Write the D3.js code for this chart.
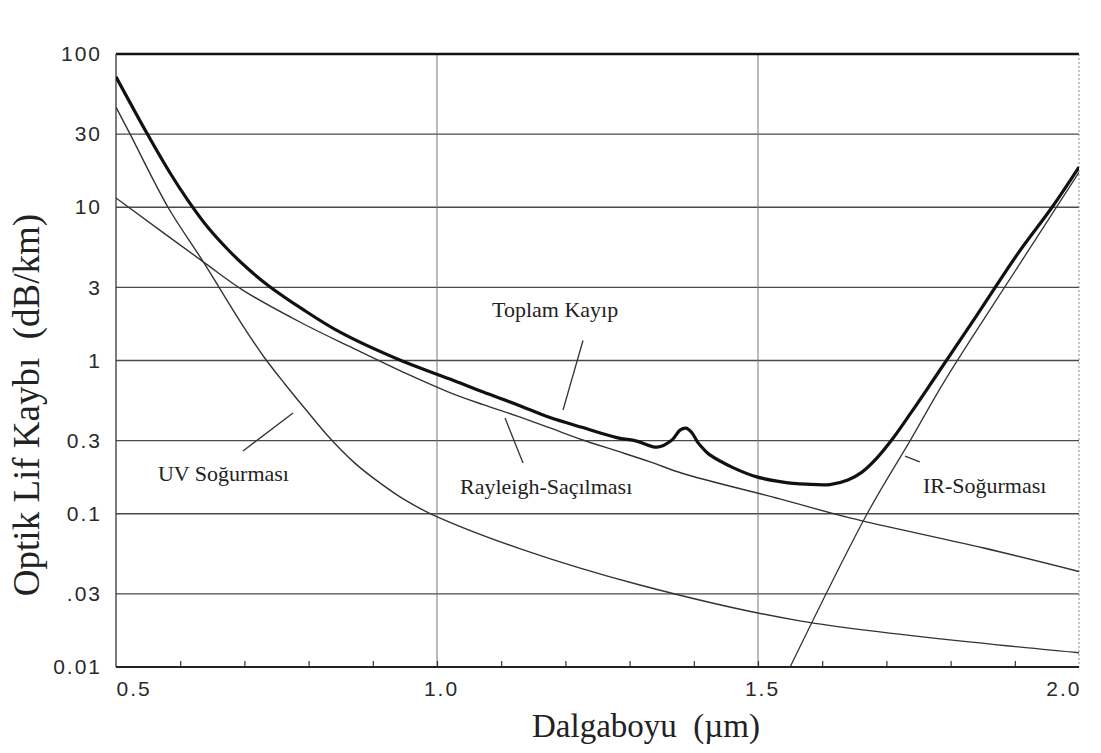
<!DOCTYPE html>
<html><head><meta charset="utf-8">
<script src="https://cdn.jsdelivr.net/npm/d3@7"></script>
<style>
body{margin:0;background:#fff}
svg{display:block}
.t{white-space:pre}
</style>
</head><body>
<svg id="c" width="1101" height="753"></svg>
<script>
// ---- data ----
const yTickValues = [0.01, 0.03, 0.1, 0.3, 1, 3, 10, 30, 100];
const yTickLabels = ["0.01", ".03", "0.1", "0.3", "1", "3", "10", "30", "100"];
const xTickValues = [0.5, 1.0, 1.5, 2.0];
const xTickLabels = ["0.5", "1.0", "1.5", "2.0"];
const xMinorTicks = [0.6, 0.7, 0.8, 0.9, 1.0, 1.1, 1.2, 1.3, 1.4, 1.5, 1.6, 1.7, 1.8, 1.9];
const xGrid = [1.0, 1.5];

const totalLambda = [0.5, 0.548, 0.584, 0.612, 0.643, 0.675, 0.706, 0.737, 0.79, 0.849, 0.942, 1.02, 1.072, 1.125, 1.176, 1.227, 1.28, 1.311, 1.343, 1.366, 1.3785, 1.388, 1.397, 1.4065, 1.4175, 1.425, 1.461, 1.498, 1.539, 1.575, 1.612, 1.640, 1.662, 1.684, 1.707, 1.737, 1.773, 1.84, 1.905, 1.958, 2.0];
const totalLoss   = [71, 30.5, 16.8, 11.1, 7.4, 5.26, 3.95, 3.09, 2.17, 1.53, 1.007, 0.757, 0.622, 0.515, 0.424, 0.365, 0.314, 0.298, 0.272, 0.303, 0.351, 0.362, 0.338, 0.291, 0.258, 0.242, 0.2, 0.174, 0.161, 0.156, 0.155, 0.166, 0.187, 0.228, 0.298, 0.448, 0.746, 1.95, 5.0, 10, 18.3];

const rayleighLambda = [0.5, 0.636, 0.698, 0.79, 0.87, 0.95, 1.02, 1.072, 1.125, 1.176, 1.227, 1.28, 1.332, 1.383, 1.534, 1.643, 1.85, 2.0];
const rayleighLoss   = [11.5, 4.4, 2.87, 1.75, 1.2, 0.83, 0.618, 0.515, 0.434, 0.363, 0.303, 0.257, 0.218, 0.183, 0.125, 0.094, 0.06, 0.042];

const uvLambda = [0.5, 0.522, 0.581, 0.636, 0.696, 0.7305, 0.763, 0.7975, 0.833, 0.872, 0.911, 0.950, 0.991, 1.13, 1.316, 1.565, 2.0];
const uvLoss   = [45, 30, 10, 4.4, 1.73, 1.054, 0.703, 0.468, 0.312, 0.214, 0.159, 0.123, 0.0996, 0.059, 0.0343, 0.02, 0.0124];

const irLambda = [1.55, 1.67, 1.737, 1.791, 1.905, 2.0];
const irLoss   = [0.01, 0.1, 0.3, 0.74, 4.1, 16.9];

// annotations (data coordinates)
const labelTexts  = ["Toplam Kayıp", "Rayleigh-Saçılması", "UV Soğurması", "IR-Soğurması"];
const labelLambda = [1.0857, 1.0358, 0.5654, 1.757];
const labelLoss   = [1.91, 0.135, 0.164, 0.137];
const leaderFrom  = [[1.2274, 1.35], [1.106, 0.421], [0.6978, 0.257], [1.729, 0.238]];
const leaderTo    = [[1.1963, 0.475], [1.134, 0.214], [0.7757, 0.454], [1.752, 0.218]];

// ---- chart ----
const svg = d3.select("#c");
const L = 116, R = 1079, T = 54, B = 667;
const x = d3.scaleLinear().domain([0.5, 2.0]).range([L, R]);
const y = d3.scaleLog().domain([0.01, 100]).range([B, T]);

// horizontal grid
svg.append("g").selectAll("line").data(yTickValues.filter(v => v > 0.01 && v < 100)).join("line")
  .attr("x1", L).attr("x2", R).attr("y1", d => y(d)).attr("y2", d => y(d))
  .attr("stroke", "#4a4a4a").attr("stroke-width", 1.4);
// vertical grid
svg.append("g").selectAll("line").data(xGrid).join("line")
  .attr("x1", d => x(d)).attr("x2", d => x(d)).attr("y1", T).attr("y2", B)
  .attr("stroke", "#777").attr("stroke-width", 1);

// borders
svg.append("line").attr("x1", L).attr("x2", R).attr("y1", y(100)).attr("y2", y(100))
  .attr("stroke", "#111").attr("stroke-width", 2.6);
svg.append("line").attr("x1", L).attr("x2", L).attr("y1", T).attr("y2", B)
  .attr("stroke", "#444").attr("stroke-width", 1.4);
svg.append("line").attr("x1", R).attr("x2", R).attr("y1", T).attr("y2", B)
  .attr("stroke", "#888").attr("stroke-width", 1).attr("stroke-dasharray", "2,2");

// bottom axis: minor ticks inside
const gMinor = svg.append("g").attr("transform", `translate(0,${B})`)
  .call(d3.axisBottom(x).tickValues(xMinorTicks).tickSize(-6).tickFormat(""));
gMinor.select(".domain").remove();
gMinor.selectAll(".tick line").attr("stroke", "#333").attr("stroke-width", 1.2);
svg.append("line").attr("x1", L).attr("x2", R).attr("y1", B).attr("y2", B)
  .attr("stroke", "#222").attr("stroke-width", 2.2);

// x tick labels
const gx = svg.append("g").attr("transform", `translate(0,${B})`)
  .call(d3.axisBottom(x).tickValues(xTickValues).tickSize(0).tickPadding(14)
    .tickFormat((d, i) => xTickLabels[i]));
gx.select(".domain").remove();
gx.selectAll("text").attr("font-family", "'Liberation Sans', Arial, sans-serif")
  .attr("font-size", 21).attr("fill", "#2a2a2a").attr("letter-spacing", 2)
  .attr("text-anchor", (d, i) => i === 0 ? "start" : (i === xTickValues.length - 1 ? "end" : "middle"))
  .attr("dx", (d, i) => i === 0 ? 0 : (i === xTickValues.length - 1 ? 2 : 4));

// y tick labels
const gy = svg.append("g").attr("transform", `translate(${L},0)`)
  .call(d3.axisLeft(y).tickValues(yTickValues).tickSize(0).tickPadding(16)
    .tickFormat((d, i) => yTickLabels[i]));
gy.select(".domain").remove();
gy.selectAll("text").attr("font-family", "'Liberation Sans', Arial, sans-serif")
  .attr("font-size", 21).attr("fill", "#2a2a2a").attr("letter-spacing", 2).attr("dx", 2);

// curves
const line = d3.line().x(d => x(d[0])).y(d => y(d[1])).curve(d3.curveCatmullRom.alpha(0.5));
const zip = (a, b) => a.map((v, i) => [v, b[i]]);
svg.append("clipPath").attr("id", "pc").append("rect")
  .attr("x", L).attr("y", T).attr("width", R - L).attr("height", B - T);
const gc = svg.append("g").attr("clip-path", "url(#pc)");
gc.append("path").datum(zip(uvLambda, uvLoss)).attr("d", line)
  .attr("fill", "none").attr("stroke", "#333").attr("stroke-width", 1.4);
gc.append("path").datum(zip(rayleighLambda, rayleighLoss)).attr("d", line)
  .attr("fill", "none").attr("stroke", "#333").attr("stroke-width", 1.4);
gc.append("path").datum(zip(irLambda, irLoss)).attr("d", line)
  .attr("fill", "none").attr("stroke", "#333").attr("stroke-width", 1.3);
gc.append("path").datum(zip(totalLambda, totalLoss)).attr("d", line)
  .attr("fill", "none").attr("stroke", "#111").attr("stroke-width", 3.2).attr("stroke-linejoin", "round");

// leaders
svg.append("g").selectAll("line").data(leaderFrom).join("line")
  .attr("x1", d => x(d[0])).attr("y1", d => y(d[1]))
  .attr("x2", (d, i) => x(leaderTo[i][0])).attr("y2", (d, i) => y(leaderTo[i][1]))
  .attr("stroke", "#333").attr("stroke-width", 1.3);

// annotation labels
svg.append("g").selectAll("text").data(labelTexts).join("text")
  .attr("x", (d, i) => x(labelLambda[i])).attr("y", (d, i) => y(labelLoss[i]))
  .attr("font-family", "'Liberation Serif', 'Times New Roman', serif")
  .attr("font-size", 22).attr("fill", "#222").text(d => d);

// axis titles
svg.append("text").attr("class", "t").attr("x", 646).attr("y", 737)
  .attr("text-anchor", "middle").attr("font-family", "'Liberation Serif', 'Times New Roman', serif")
  .attr("font-size", 33).attr("fill", "#222").text("Dalgaboyu  (\u00b5m)");
svg.append("text").attr("class", "t").attr("transform", "translate(39,405) rotate(-90)")
  .attr("text-anchor", "middle").attr("font-family", "'Liberation Serif', 'Times New Roman', serif")
  .attr("font-size", 37).attr("fill", "#222").text("Optik Lif Kaybı  (dB/km)");
</script>
</body></html>
